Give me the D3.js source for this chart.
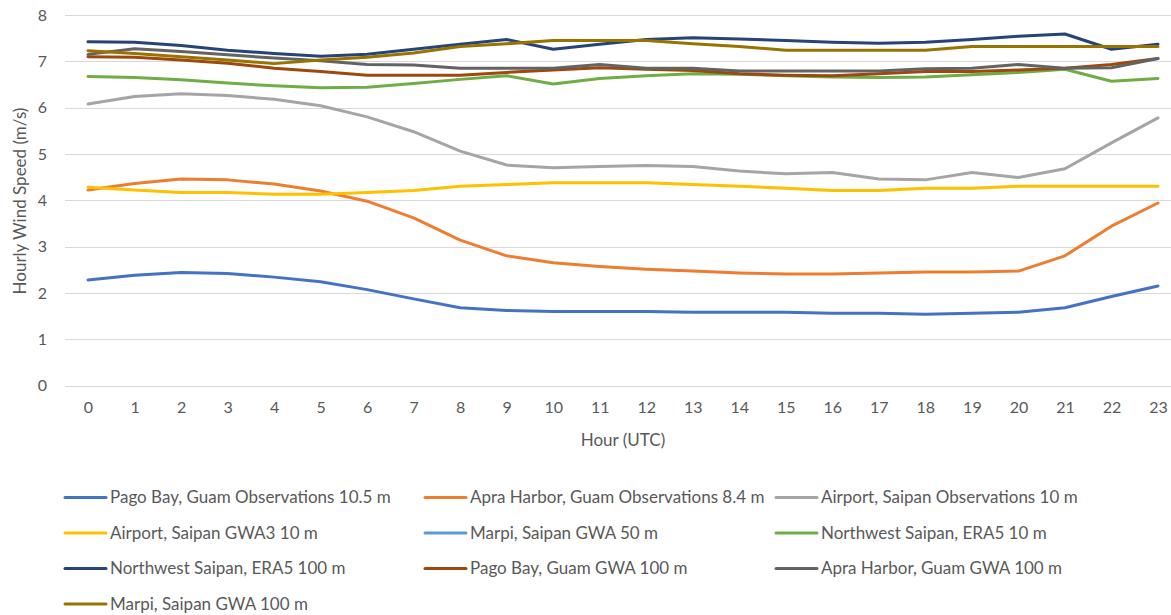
<!DOCTYPE html>
<html>
<head>
<meta charset="utf-8">
<script src="https://cdn.jsdelivr.net/npm/d3@7"></script>
<style>
  html, body { margin: 0; padding: 0; background: #fff; }
  svg { display: block; }
  text { font-family: Lato, "Open Sans", sans-serif; fill: #595959; }
</style>
</head>
<body>
<svg id="chart" width="1171" height="615"></svg>
<script>
const hours = d3.range(0, 24);
const yTicks = [0, 1, 2, 3, 4, 5, 6, 7, 8];

const seriesNames = [
  "Pago Bay, Guam Observations 10.5 m",
  "Apra Harbor, Guam Observations 8.4 m",
  "Airport, Saipan Observations 10 m",
  "Airport, Saipan GWA3 10 m",
  "Marpi, Saipan GWA 50 m",
  "Northwest Saipan, ERA5 10 m",
  "Northwest Saipan, ERA5 100 m",
  "Pago Bay, Guam GWA 100 m",
  "Apra Harbor, Guam GWA 100 m",
  "Marpi, Saipan GWA 100 m"
];
const seriesColors = ["#4472C4","#ED7D31","#A5A5A5","#FFC000","#5B9BD5","#70AD47","#264478","#9E480E","#636363","#997300"];

const pagoObs = [2.28,2.38,2.44,2.42,2.34,2.24,2.07,1.87,1.68,1.62,1.60,1.60,1.60,1.58,1.58,1.58,1.56,1.56,1.54,1.56,1.58,1.68,1.92,2.15];
const apraObs = [4.22,4.36,4.46,4.44,4.35,4.20,3.98,3.62,3.14,2.80,2.65,2.57,2.51,2.47,2.43,2.41,2.41,2.43,2.45,2.45,2.47,2.80,3.44,3.94];
const airportObs = [6.08,6.24,6.30,6.26,6.18,6.04,5.80,5.48,5.06,4.76,4.70,4.73,4.75,4.73,4.63,4.57,4.60,4.46,4.44,4.60,4.49,4.68,5.24,5.78];
const airportGwa3 = [4.28,4.22,4.17,4.17,4.13,4.13,4.17,4.21,4.30,4.34,4.38,4.38,4.38,4.34,4.30,4.26,4.21,4.21,4.26,4.26,4.30,4.30,4.30,4.30];
const marpiGwa50 = [];
const nwEra10 = [6.67,6.65,6.60,6.53,6.47,6.43,6.44,6.52,6.61,6.69,6.51,6.63,6.69,6.73,6.72,6.69,6.66,6.65,6.66,6.71,6.76,6.83,6.57,6.63];
const nwEra100 = [7.42,7.41,7.34,7.24,7.17,7.11,7.15,7.26,7.37,7.47,7.26,7.37,7.47,7.51,7.48,7.45,7.41,7.39,7.41,7.47,7.54,7.59,7.26,7.37];
const pagoGwa100 = [7.10,7.09,7.03,6.96,6.85,6.78,6.70,6.70,6.70,6.76,6.81,6.86,6.83,6.80,6.73,6.70,6.69,6.73,6.78,6.78,6.81,6.85,6.93,7.06];
const apraGwa100 = [7.15,7.27,7.21,7.14,7.07,7.01,6.93,6.92,6.85,6.85,6.85,6.93,6.85,6.85,6.79,6.79,6.79,6.79,6.84,6.85,6.93,6.85,6.86,7.06];
const marpiGwa100 = [7.23,7.17,7.10,7.03,6.95,7.03,7.09,7.18,7.32,7.38,7.45,7.45,7.45,7.38,7.32,7.24,7.24,7.24,7.24,7.32,7.32,7.32,7.32,7.32];

const seriesValues = [pagoObs, apraObs, airportObs, airportGwa3, marpiGwa50, nwEra10, nwEra100, pagoGwa100, apraGwa100, marpiGwa100];

const svg = d3.select("#chart");
const plotLeft = 64.75, step = 46.52;
const x = d3.scalePoint().domain(hours).range([plotLeft, plotLeft + step * 24]).padding(0.5);
const y = d3.scaleLinear().domain([0, 8]).range([385.5, 15]);

// gridlines
svg.append("g").selectAll("line").data(yTicks).join("line")
  .attr("x1", 65).attr("x2", 1171)
  .attr("y1", d => Math.round(y(d)) + 0.5).attr("y2", d => Math.round(y(d)) + 0.5)
  .attr("stroke", "#d9d9d9").attr("stroke-width", 1);

// y axis labels
const yAxis = d3.axisLeft(y).tickValues(yTicks).tickSize(0).tickPadding(0);
const yG = svg.append("g").attr("transform", "translate(47,0)").call(yAxis);
yG.select(".domain").remove();
yG.selectAll("text").attr("font-size", 16).style("fill", "#595959").attr("font-family", "Lato, 'Open Sans', sans-serif");

// x axis labels
const xAxis = d3.axisBottom(x).tickSize(0).tickPadding(0);
const xG = svg.append("g").attr("transform", "translate(0,402)").call(xAxis);
xG.select(".domain").remove();
xG.selectAll("text").attr("font-size", 16).style("fill", "#595959").attr("font-family", "Lato, 'Open Sans', sans-serif");

// axis titles
svg.append("text").attr("x", 623).attr("y", 446).attr("text-anchor", "middle")
  .attr("font-size", 17).text("Hour (UTC)");
svg.append("text").attr("transform", "translate(26,201) rotate(-90)").attr("text-anchor", "middle")
  .attr("font-size", 17).text("Hourly Wind Speed (m/s)");

// lines
const line = d3.line().x((d, i) => x(hours[i])).y(d => y(d)).curve(d3.curveLinear);
svg.append("g").selectAll("path").data(seriesValues).join("path")
  .attr("d", d => d.length ? line(d) : null)
  .attr("fill", "none")
  .attr("stroke", (d, i) => seriesColors[i])
  .attr("stroke-width", 3)
  .attr("stroke-linejoin", "round")
  .attr("stroke-linecap", "round");

// legend
const colX = [65, 425, 776];
const rowY = [497.5, 533, 568.5, 604];
const leg = svg.append("g").selectAll("g").data(seriesNames).join("g")
  .attr("transform", (d, i) => `translate(${colX[i % 3]},${rowY[Math.floor(i / 3)]})`);
leg.append("line").attr("x1", 0).attr("x2", 41).attr("y1", 0).attr("y2", 0)
  .attr("stroke", (d, i) => seriesColors[i]).attr("stroke-width", 3).attr("stroke-linecap", "round");
leg.append("text").attr("x", 45).attr("y", 0).attr("dy", "0.35em")
  .attr("font-size", 17).text(d => d);
</script>
</body>
</html>
